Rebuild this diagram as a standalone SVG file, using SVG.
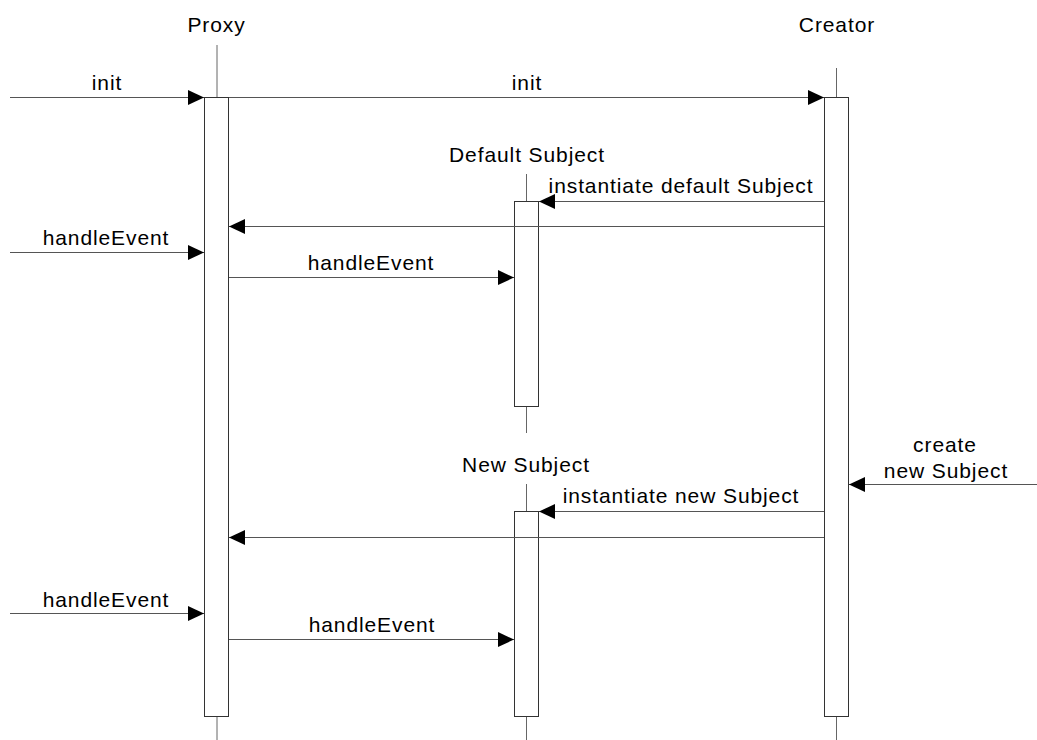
<svg xmlns="http://www.w3.org/2000/svg" width="1037" height="740" viewBox="0 0 1037 740">
<style>
text{font-family:"Liberation Sans",Arial,sans-serif;font-size:21px;letter-spacing:0.9px;fill:#000;text-anchor:middle}
.life{stroke:#666;stroke-width:1;fill:none}
.act{fill:#fff;stroke:#333;stroke-width:1}
.msg{stroke:#555;stroke-width:1;fill:none;marker-end:url(#ah)}
</style>
<defs>
<marker id="ah" markerUnits="userSpaceOnUse" markerWidth="17" markerHeight="16" refX="16" refY="7.5" orient="auto"><path d="M0,0 L16,7.5 L0,15 z" fill="#000"/></marker>
</defs>
<rect width="1037" height="740" fill="#fff"/>
<g id="proxy">
<text x="216.5" y="32">Proxy</text>
<line class="life" x1="217" y1="45" x2="217" y2="97"/>
<line class="life" x1="217" y1="717" x2="217" y2="740"/>
<rect class="act" x="204.5" y="97.5" width="24" height="619"/>
</g>
<g id="creator">
<text x="837" y="32">Creator</text>
<line class="life" x1="836.5" y1="68" x2="836.5" y2="97"/>
<line class="life" x1="836.5" y1="717" x2="836.5" y2="740"/>
<rect class="act" x="824.5" y="97.5" width="24" height="619"/>
</g>
<g id="default-subject">
<text x="527" y="162">Default Subject</text>
<line class="life" x1="526.5" y1="174" x2="526.5" y2="201"/>
<line class="life" x1="526.5" y1="407" x2="526.5" y2="433"/>
<rect class="act" x="514.5" y="201.5" width="24" height="205"/>
</g>
<g id="new-subject">
<text x="526" y="472">New Subject</text>
<line class="life" x1="526.5" y1="484" x2="526.5" y2="511"/>
<line class="life" x1="526.5" y1="717" x2="526.5" y2="740"/>
<rect class="act" x="514.5" y="511.5" width="24" height="205"/>
</g>
<g id="connectors">
<line class="msg" x1="10" y1="97.5" x2="204" y2="97.5"/>
<line class="msg" x1="229" y1="97.5" x2="824" y2="97.5"/>
<line class="msg" x1="824" y1="201.5" x2="539" y2="201.5"/>
<line class="msg" x1="824" y1="226.5" x2="229" y2="226.5"/>
<line class="msg" x1="10" y1="252.5" x2="204" y2="252.5"/>
<line class="msg" x1="229" y1="277.5" x2="514" y2="277.5"/>
<line class="msg" x1="1037" y1="484.5" x2="849" y2="484.5"/>
<line class="msg" x1="824" y1="511.5" x2="539" y2="511.5"/>
<line class="msg" x1="824" y1="537.5" x2="229" y2="537.5"/>
<line class="msg" x1="10" y1="613.5" x2="204" y2="613.5"/>
<line class="msg" x1="229" y1="639.5" x2="514" y2="639.5"/>
<text x="107" y="90">init</text>
<text x="527" y="90">init</text>
<text x="681" y="193">instantiate default Subject</text>
<text x="106" y="245">handleEvent</text>
<text x="371" y="270">handleEvent</text>
<text x="945" y="452">create</text>
<text x="946" y="478">new Subject</text>
<text x="681" y="503">instantiate new Subject</text>
<text x="106" y="607">handleEvent</text>
<text x="372" y="632">handleEvent</text>
</g>
</svg>
